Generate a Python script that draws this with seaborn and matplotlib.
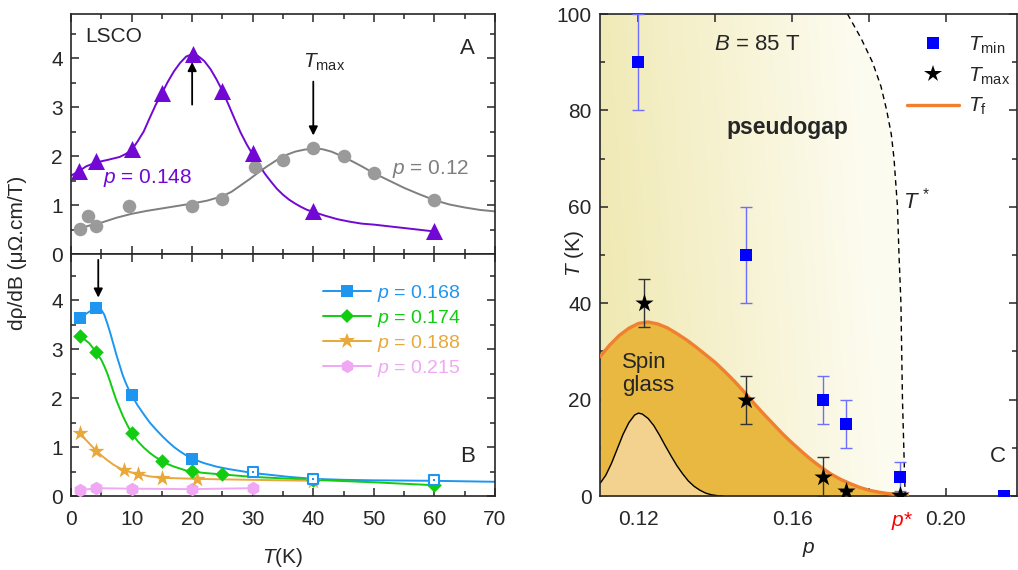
import numpy as np
import pandas as pd
import matplotlib
matplotlib.use("Agg")
import matplotlib.pyplot as plt
import seaborn as sns
from matplotlib.lines import Line2D
from matplotlib.patches import Polygon

# ---------------- data: panel A ----------------
a148_T = [1.3, 4.2, 10.1, 15.1, 20.1, 25.0, 30.0, 40.0, 60.0]
a148_y = [1.69, 1.89, 2.14, 3.28, 4.08, 3.33, 2.06, 0.87, 0.46]
a148_fitT = [0, 1.3, 2.5, 4.2, 6, 8, 9, 10, 11, 12, 13, 14, 15, 16, 17, 18, 19, 20, 21, 22, 23, 24, 25,
             26, 27, 28, 29, 30, 31, 32, 33, 34, 35, 36, 37, 38, 39, 40, 42, 44, 46, 48, 50, 55, 60]
a148_fity = [1.60, 1.69, 1.79, 1.87, 1.92, 1.98, 2.04, 2.12, 2.30, 2.50, 2.78, 3.05, 3.28, 3.52, 3.73,
             3.90, 4.03, 4.08, 4.04, 3.94, 3.78, 3.57, 3.33, 3.05, 2.76, 2.48, 2.24, 2.03, 1.83, 1.64,
             1.48, 1.33, 1.21, 1.11, 1.03, 0.96, 0.90, 0.86, 0.78, 0.71, 0.66, 0.62, 0.60, 0.53, 0.46]

a12_T = [1.5, 2.75, 4.2, 9.6, 20.0, 25.0, 30.4, 35.0, 40.0, 45.0, 50.0, 60.0]
a12_y = [0.51, 0.77, 0.58, 0.99, 0.99, 1.12, 1.78, 1.91, 2.16, 2.00, 1.66, 1.10]
a12_fitT = [1.5, 3, 5, 7.5, 10, 12.5, 15, 17.5, 20, 22.5, 25, 26.5, 28, 29.5, 31, 32.5, 34, 35.5, 37,
            38.5, 40, 41.5, 43, 44.5, 46, 48, 50, 52.5, 55, 57.5, 60, 62.5, 65, 67.5, 70]
a12_fity = [0.52, 0.58, 0.64, 0.74, 0.82, 0.88, 0.93, 0.98, 1.03, 1.09, 1.18, 1.27, 1.40, 1.53, 1.67,
            1.80, 1.92, 2.02, 2.09, 2.13, 2.15, 2.14, 2.09, 2.01, 1.92, 1.79, 1.65, 1.50, 1.35, 1.22,
            1.10, 1.01, 0.95, 0.90, 0.87]

# ---------------- data: panel B ----------------
b168_T = [1.5, 4.2, 10.0, 20.0, 30.0, 40.0, 60.0]
b168_y = [3.64, 3.83, 2.06, 0.76, 0.48, 0.35, 0.33]
b168_open = [False, False, False, False, True, True, True]
b168_fitT = [1.5, 2.5, 3.5, 4.2, 5, 5.5, 6, 6.5, 7, 7.5, 8, 8.5, 9, 9.5, 10, 11, 12, 13, 14, 15, 16, 17,
             18, 19, 20, 22, 24, 26, 28, 30, 33, 36, 40, 45, 50, 60, 70]
b168_fity = [3.64, 3.72, 3.80, 3.83, 3.80, 3.70, 3.52, 3.32, 3.10, 2.88, 2.68, 2.48, 2.32, 2.18, 2.06,
             1.85, 1.67, 1.50, 1.36, 1.23, 1.11, 1.00, 0.91, 0.83, 0.76, 0.67, 0.60, 0.55, 0.51, 0.47,
             0.43, 0.39, 0.35, 0.33, 0.32, 0.31, 0.29]

b174_T = [1.5, 4.2, 10.1, 15.1, 20.0, 25.0, 40.0, 60.0]
b174_y = [3.27, 2.93, 1.29, 0.72, 0.51, 0.44, 0.33, 0.22]
b174_fitT = [1.5, 3, 4.2, 5, 5.5, 6, 6.5, 7, 7.5, 8, 8.5, 9, 9.5, 10, 11, 12, 13, 14, 15, 16, 17, 18,
             19, 20, 22, 25, 30, 35, 40, 50, 60]
b174_fity = [3.27, 3.12, 2.93, 2.78, 2.65, 2.50, 2.32, 2.13, 1.95, 1.80, 1.65, 1.52, 1.40, 1.29, 1.12,
             0.99, 0.88, 0.79, 0.72, 0.65, 0.60, 0.56, 0.52, 0.50, 0.47, 0.44, 0.39, 0.36, 0.33, 0.28, 0.22]

b188_T = [1.5, 4.2, 8.7, 11.1, 15.1, 20.8, 40.0]
b188_y = [1.29, 0.92, 0.53, 0.44, 0.36, 0.35, 0.31]
b188_fitT = [1.5, 2.5, 3.5, 4.2, 5, 6, 7, 8, 8.7, 10, 11.1, 13, 15.1, 18, 20.8, 25, 30, 40]
b188_fity = [1.29, 1.14, 1.01, 0.92, 0.83, 0.73, 0.64, 0.57, 0.53, 0.48, 0.45, 0.40, 0.37, 0.36, 0.35,
             0.34, 0.33, 0.31]

b215_T = [1.5, 4.2, 10.0, 20.0, 30.0]
b215_y = [0.12, 0.16, 0.15, 0.14, 0.16]

# ---------------- data: panel C ----------------
tmin_p = [0.120, 0.148, 0.168, 0.174, 0.188, 0.215]
tmin_T = [90, 50, 20, 15, 4, 0]
tmin_err = [10, 10, 5, 5, 3, 0]

tmax_p = [0.1215, 0.148, 0.168, 0.174, 0.188]
tmax_T = [40, 20, 4, 1, 0.2]
tmax_err = [5, 5, 4, 0, 0]

tf_p = [0.110, 0.1125, 0.115, 0.1175, 0.120, 0.1225, 0.125, 0.1275, 0.130, 0.1325, 0.135, 0.1375,
        0.140, 0.1425, 0.145, 0.1475, 0.150, 0.1525, 0.155, 0.1575, 0.160, 0.1625, 0.165, 0.1675,
        0.170, 0.1725, 0.175, 0.1775, 0.180, 0.1825, 0.185, 0.1875, 0.190]
tf_T = [28.9, 31.3, 33.3, 34.8, 35.8, 36.1, 35.7, 34.9, 33.7, 32.4, 30.9, 29.3, 27.7, 25.8, 23.8, 21.6,
        19.3, 17.1, 15.0, 12.9, 11.0, 9.2, 7.5, 6.0, 4.6, 3.5, 2.6, 1.8, 1.2, 0.8, 0.5, 0.3, 0.2]

sg_p = [0.110, 0.1115, 0.113, 0.1145, 0.116, 0.1175, 0.119, 0.120, 0.121, 0.1225, 0.124, 0.1255, 0.127,
        0.1285, 0.130, 0.1315, 0.133, 0.1345, 0.136, 0.1375, 0.139, 0.1405, 0.142]
sg_T = [2.6, 4.3, 6.8, 9.8, 12.8, 15.2, 16.8, 17.2, 17.0, 16.1, 14.6, 12.6, 10.4, 8.3, 6.3, 4.6, 3.1,
        2.0, 1.2, 0.6, 0.25, 0.08, 0.0]

tstar_p = [0.1744, 0.1779, 0.1809, 0.1831, 0.1846, 0.1858, 0.1865, 0.1874, 0.1878, 0.1883, 0.1887, 0.1894]
tstar_T = [100, 95, 90, 85, 80, 75, 70, 60, 50, 40, 20, 0]

# ---------------- style ----------------
sns.set_theme(style="ticks")
plt.rcParams["font.family"] = ["Liberation Sans", "DejaVu Sans"]
plt.rcParams["mathtext.fontset"] = "custom"
plt.rcParams["mathtext.rm"] = "Liberation Sans"
plt.rcParams["mathtext.it"] = "Liberation Sans:italic"
plt.rcParams["mathtext.bf"] = "Liberation Sans:bold"
plt.rcParams["axes.linewidth"] = 1.2

PURPLE = "#7108D4"
GRAY = "#9a9a9a"
GRAYL = "#7f7f7f"
BLUE = "#1E96F0"
GREEN = "#12CC12"
ORANGE = "#E8A83A"
PINK = "#F0A8F4"
FS = 15

fig = plt.figure(figsize=(10.18, 5.70), dpi=100)
W, H = 1018, 570
def rect(l, t, r, b):
    return [l / W, 1 - b / H, (r - l) / W, (b - t) / H]

axA = fig.add_axes(rect(71, 14, 495, 254))
axB = fig.add_axes(rect(71, 254, 495, 496))
axC = fig.add_axes(rect(600, 14, 1017, 496))

def style_ticks(ax):
    ax.tick_params(which="both", direction="in", top=True, right=True, labelsize=FS, width=1.1)
    ax.tick_params(axis="x", which="both", pad=10)
    ax.tick_params(axis="y", which="both", pad=6)
    ax.tick_params(which="major", length=6)
    ax.tick_params(which="minor", length=3.5)

# ---------------- panel A ----------------
sns.lineplot(x=a148_fitT, y=a148_fity, ax=axA, color=PURPLE, lw=1.4, sort=False, estimator=None)
sns.lineplot(x=a12_fitT, y=a12_fity, ax=axA, color=GRAYL, lw=1.4, sort=False, estimator=None)
sns.scatterplot(x=a12_T, y=a12_y, ax=axA, color=GRAY, marker="o", s=95, linewidth=0, zorder=4)
sns.scatterplot(x=a148_T, y=a148_y, ax=axA, color=PURPLE, marker="^", s=150, linewidth=0, zorder=5)
axA.set_xlim(0, 70)
axA.set_ylim(0, 4.9)
axA.set_xticks(np.arange(0, 71, 10))
axA.set_xticks(np.arange(5, 70, 10), minor=True)
axA.set_yticks([0, 1, 2, 3, 4])
axA.set_yticks([0.5, 1.5, 2.5, 3.5, 4.5], minor=True)
axA.set_xticklabels([])
style_ticks(axA)
axA.text(2.3, 4.45, "LSCO", fontsize=FS, ha="left", va="center")
axA.text(65.5, 4.2, "A", fontsize=16, ha="center", va="center")
axA.text(41.8, 3.92, r"$T_{\mathrm{max}}$", fontsize=FS, ha="center", va="center")
axA.text(12.6, 1.55, r"$p$ = 0.148", fontsize=FS, color=PURPLE, ha="center", va="center")
axA.text(59.4, 1.73, r"$p$ = 0.12", fontsize=FS, color=GRAYL, ha="center", va="center")
arrow = dict(arrowstyle="-|>", color="black", lw=1.3, mutation_scale=13, shrinkA=0, shrinkB=0)
axA.annotate("", xy=(20, 3.92), xytext=(20, 3.05), arrowprops=arrow)
axA.annotate("", xy=(40, 2.42), xytext=(40, 3.52), arrowprops=arrow)

# ---------------- panel B ----------------
series = [
    (b168_fitT, b168_fity, BLUE),
    (b174_fitT, b174_fity, GREEN),
    (b188_fitT, b188_fity, ORANGE),
    (b215_T, b215_y, PINK),
]
for xs, ys, c in series:
    sns.lineplot(x=xs, y=ys, ax=axB, color=c, lw=1.4, sort=False, estimator=None)

sns.scatterplot(x=b215_T, y=b215_y, ax=axB, color=PINK, marker="h", s=95, linewidth=0, zorder=4)
sns.scatterplot(x=b188_T, y=b188_y, ax=axB, color=ORANGE, marker="*", s=150, linewidth=0, zorder=4)
sns.scatterplot(x=b174_T, y=b174_y, ax=axB, color=GREEN, marker="D", s=55, linewidth=0, zorder=5)
fT = [t for t, o in zip(b168_T, b168_open) if not o]
fy = [v for v, o in zip(b168_y, b168_open) if not o]
oT = [t for t, o in zip(b168_T, b168_open) if o]
oy = [v for v, o in zip(b168_y, b168_open) if o]
sns.scatterplot(x=fT, y=fy, ax=axB, color=BLUE, marker="s", s=75, linewidth=0, zorder=6)
sns.scatterplot(x=oT, y=oy, ax=axB, facecolor="white", edgecolor=BLUE, marker="s", s=60, linewidth=1.5, zorder=6)
sns.scatterplot(x=oT, y=oy, ax=axB, color=BLUE, marker="s", s=3, linewidth=0, zorder=7)
axB.set_xlim(0, 70)
axB.set_ylim(0, 4.94)
axB.set_xticks(np.arange(0, 71, 10))
axB.set_xticks(np.arange(5, 70, 10), minor=True)
axB.set_yticks([0, 1, 2, 3, 4])
axB.set_yticks([0.5, 1.5, 2.5, 3.5, 4.5], minor=True)
style_ticks(axB)
axB.set_xlabel(r"$T$(K)", fontsize=FS, labelpad=12)
axB.set_ylabel("")
axB.text(65.5, 0.8, "B", fontsize=16, ha="center", va="center")
axB.annotate("", xy=(4.5, 4.05), xytext=(4.5, 4.82), arrowprops=arrow)
handles = [
    Line2D([], [], color=BLUE, marker="s", ms=8.5, lw=1.4, mew=0),
    Line2D([], [], color=GREEN, marker="D", ms=7.5, lw=1.4, mew=0),
    Line2D([], [], color=ORANGE, marker="*", ms=12, lw=1.4, mew=0),
    Line2D([], [], color=PINK, marker="h", ms=9.5, lw=1.4, mew=0),
]
labels = [r"$p$ = 0.168", r"$p$ = 0.174", r"$p$ = 0.188", r"$p$ = 0.215"]
axB.legend(handles, labels, loc="upper left", bbox_to_anchor=(0.594, 0.88), frameon=False,
           fontsize=14, handlelength=2.5, handletextpad=0.3, labelspacing=0.2,
           borderpad=0, borderaxespad=0, labelcolor="linecolor")

fig.text(18 / W, 1 - 253 / H, "dρ/dB (μΩ.cm/T)", rotation=90, fontsize=FS, ha="center", va="center")

# ---------------- panel C ----------------
axC.set_xlim(0.11, 0.2185)
axC.set_ylim(0, 100)
# gradient background of the pseudogap region
gx = np.linspace(0, 1, 300)
gy = np.linspace(0, 1, 200)
GX, GY = np.meshgrid(gx, gy)
tt = np.clip(GX * 1.05 + GY * 0.12, 0, 1)
c0 = np.array([0.937, 0.910, 0.690])
c1 = np.array([0.992, 0.988, 0.945])
img = c0[None, None, :] * (1 - tt[..., None]) + c1[None, None, :] * tt[..., None]
im = axC.imshow(img, extent=[0.11, 0.19, 0, 100], origin="lower", aspect="auto", zorder=0)
poly_xy = [(0.11, 0), (0.11, 100)] + list(zip(tstar_p, tstar_T))
poly = Polygon(poly_xy, closed=True, transform=axC.transData, facecolor="none", edgecolor="none")
axC.add_patch(poly)
im.set_clip_path(poly)
axC.set_xlim(0.11, 0.2185)
axC.set_ylim(0, 100)
sns.lineplot(x=tstar_p, y=tstar_T, ax=axC, color="black", lw=1.0, linestyle=(0, (4, 3)), sort=False, estimator=None, zorder=2)

axC.fill_between(tf_p, 0, tf_T, color="#E8B840", lw=0, zorder=1)
axC.fill_between(sg_p, 0, sg_T, color="#F2D28E", lw=0, zorder=1.5)
sns.lineplot(x=sg_p, y=sg_T, ax=axC, color="black", lw=1.0, sort=False, estimator=None, zorder=2)
sns.lineplot(x=tf_p, y=tf_T, ax=axC, color="#F08030", lw=2.4, sort=False, estimator=None, zorder=3)

axC.errorbar(tmin_p, tmin_T, yerr=tmin_err, fmt="none", ecolor="#6E6EFF", elinewidth=1.0, capsize=4, capthick=1.0, zorder=4)
axC.errorbar(tmax_p, tmax_T, yerr=tmax_err, fmt="none", ecolor="#333333", elinewidth=1.0, capsize=4, capthick=1.0, zorder=4)
sns.scatterplot(x=tmin_p, y=tmin_T, ax=axC, color="#0000FF", marker="s", s=70, linewidth=0, zorder=5)
sns.scatterplot(x=tmax_p, y=tmax_T, ax=axC, color="black", marker="*", s=190, linewidth=0, zorder=5)

axC.set_xticks([0.12, 0.14, 0.16, 0.18, 0.20])
axC.set_xticklabels(["0.12", "", "0.16", "", "0.20"])
axC.set_yticks([0, 20, 40, 60, 80, 100])
axC.set_yticks([10, 30, 50, 70, 90], minor=True)
style_ticks(axC)
axC.set_xlabel(r"$p$", fontsize=FS, labelpad=8)
axC.set_ylabel("")
fig.text(574 / W, 1 - 253 / H, r"$T$ (K)", rotation=90, fontsize=FS, ha="center", va="center")
axC.annotate(r"$p$*", xy=(0.1885, 0), xycoords=("data", "axes fraction"), xytext=(0, -10),
             textcoords="offset points", color="red", fontsize=FS, ha="center", va="top")
axC.text(0.1509, 93.6, r"$B$ = 85 T", fontsize=16, ha="center", va="center")
axC.text(0.1588, 76.4, "pseudogap", fontsize=16.5, fontweight="bold", ha="center", va="center")
axC.text(0.1923, 61.4, r"$T^{\,*}$", fontsize=16, ha="center", va="center")
axC.text(0.1158, 25.3, "Spin\nglass", fontsize=16, ha="left", va="center", linespacing=1.1)
axC.text(0.2134, 8.2, "C", fontsize=16, ha="center", va="center")

lh = [
    Line2D([], [], color="#0000FF", marker="s", ms=8, lw=0, mew=0),
    Line2D([], [], color="black", marker="*", ms=13, lw=0, mew=0),
    Line2D([], [], color="#F08030", lw=2.4),
]
ll = [r"$T_{\mathrm{min}}$", r"$T_{\mathrm{max}}$", r"$T_{\mathrm{f}}$"]
axC.legend(lh, ll, loc="upper left", bbox_to_anchor=(0.736, 0.957), frameon=False,
           fontsize=FS, handlelength=2.5, handletextpad=0.45, labelspacing=0.45,
           borderpad=0, borderaxespad=0)

fig.savefig("out.png", dpi=100)
